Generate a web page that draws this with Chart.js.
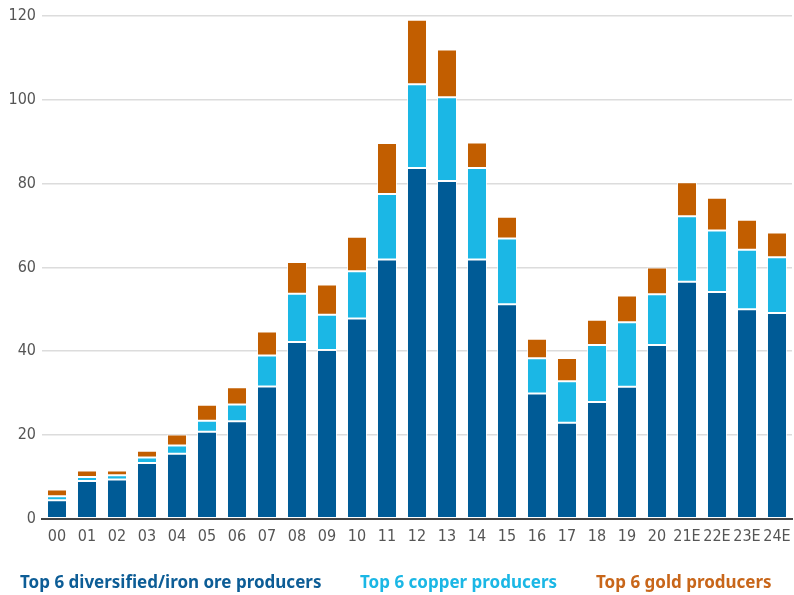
<!DOCTYPE html>
<html>
<head>
<meta charset="utf-8">
<script src="https://cdn.jsdelivr.net/npm/chart.js@4.4.0/dist/chart.umd.min.js"></script>
<style>
  html, body { margin: 0; padding: 0; background: #fff; }
  #wrap { position: relative; width: 794px; height: 595px; }
  #legend { position: absolute; left: 0; top: 570px; width: 794px; height: 25px; font-family: "Noto Sans", sans-serif; font-weight: 700; font-size: 17px; }
  #legend span { position: absolute; top: 0; white-space: nowrap; }
</style>
</head>
<body>
<div id="wrap">
  <canvas id="chart_bar" width="794" height="595"></canvas>
  <div id="legend"></div>
</div>
<script>
// years, E = estimate
var years = ["00", "01", "02", "03", "04", "05", "06", "07", "08", "09", "10", "11", "12",
    "13", "14", "15", "16", "17", "18", "19", "20", "21E", "22E", "23E", "24E"];

var diversified = [4.4, 9.0, 9.4, 13.3, 15.5, 20.8, 23.3, 31.6, 42.2, 40.3, 47.8, 61.9, 83.7,
    80.6, 61.9, 51.2, 29.9, 22.9, 27.9, 31.5, 41.5, 56.6, 54.1, 50.0, 49.1];
var copper = [1.0, 1.0, 1.0, 1.35, 2.0, 2.6, 4.0, 7.4, 11.5, 8.4, 11.3, 15.6, 20.0,
    20.0, 21.8, 15.7, 8.4, 9.9, 13.6, 15.4, 12.1, 15.6, 14.7, 14.2, 13.3];
var gold = [1.6, 1.5, 1.1, 1.6, 2.6, 3.8, 4.1, 5.7, 7.6, 7.2, 8.2, 12.2, 15.4,
    11.4, 6.1, 5.2, 4.7, 5.6, 6.0, 6.4, 6.4, 8.1, 7.8, 7.2, 5.9];

var yTicks = [0, 20, 40, 60, 80, 100, 120];

var seriesNames = ["Top 6 diversified/iron ore producers", "Top 6 copper producers", "Top 6 gold producers"];
var seriesColors = ["#005b96", "#1bb7e5", "#c25e00"];
var legendColors = ["#0d5d96", "#1bb7e5", "#c8661a"];

var datos = {
    labels: years,
    datasets: [{
            label: seriesNames[0],
            backgroundColor: seriesColors[0],
            data: diversified
        },
        {
            label: seriesNames[1],
            backgroundColor: seriesColors[1],
            data: copper
        },
        {
            label: seriesNames[2],
            backgroundColor: seriesColors[2],
            data: gold
        }
    ]
};

var tickFont = { family: "'Liberation Sans Narrow', 'DejaVu Sans Condensed', sans-serif", size: 16 };

var canvas = document.getElementById('chart_bar').getContext('2d');
window.bar = new Chart(canvas, {
    type: "bar",
    data: datos,
    options: {
        responsive: false,
        animation: false,
        layout: { padding: { top: 16, right: 2, left: 0, bottom: 49 } },
        datasets: {
            bar: {
                barPercentage: 0.667,
                categoryPercentage: 1,
                borderWidth: 1,
                borderColor: "rgba(255,255,255,0.75)",
                borderSkipped: false
            }
        },
        plugins: {
            legend: { display: false },
            tooltip: { enabled: false }
        },
        scales: {
            x: {
                stacked: true,
                grid: { display: false },
                border: { display: true, color: "#444", width: 2 },
                ticks: { color: "#555", font: tickFont, padding: 0, maxRotation: 0, autoSkip: false }
            },
            y: {
                stacked: true,
                min: 0,
                max: 120,
                afterBuildTicks: function(scale) {
                    scale.ticks = yTicks.map(function(v) { return { value: v }; });
                },
                afterFit: function(scale) { scale.width = 42; },
                grid: { color: "#dcdcdc", lineWidth: 1.5, drawTicks: false },
                border: { display: false },
                ticks: { color: "#555", font: tickFont, padding: 6 }
            }
        }
    }
});

// legend as coloured text
var legendPos = [20, 360, 596];
var leg = document.getElementById('legend');
seriesNames.forEach(function(name, i) {
    var s = document.createElement('span');
    s.textContent = name;
    s.style.color = legendColors[i];
    s.style.left = legendPos[i] + 'px';
    leg.appendChild(s);
});
</script>
</body>
</html>
